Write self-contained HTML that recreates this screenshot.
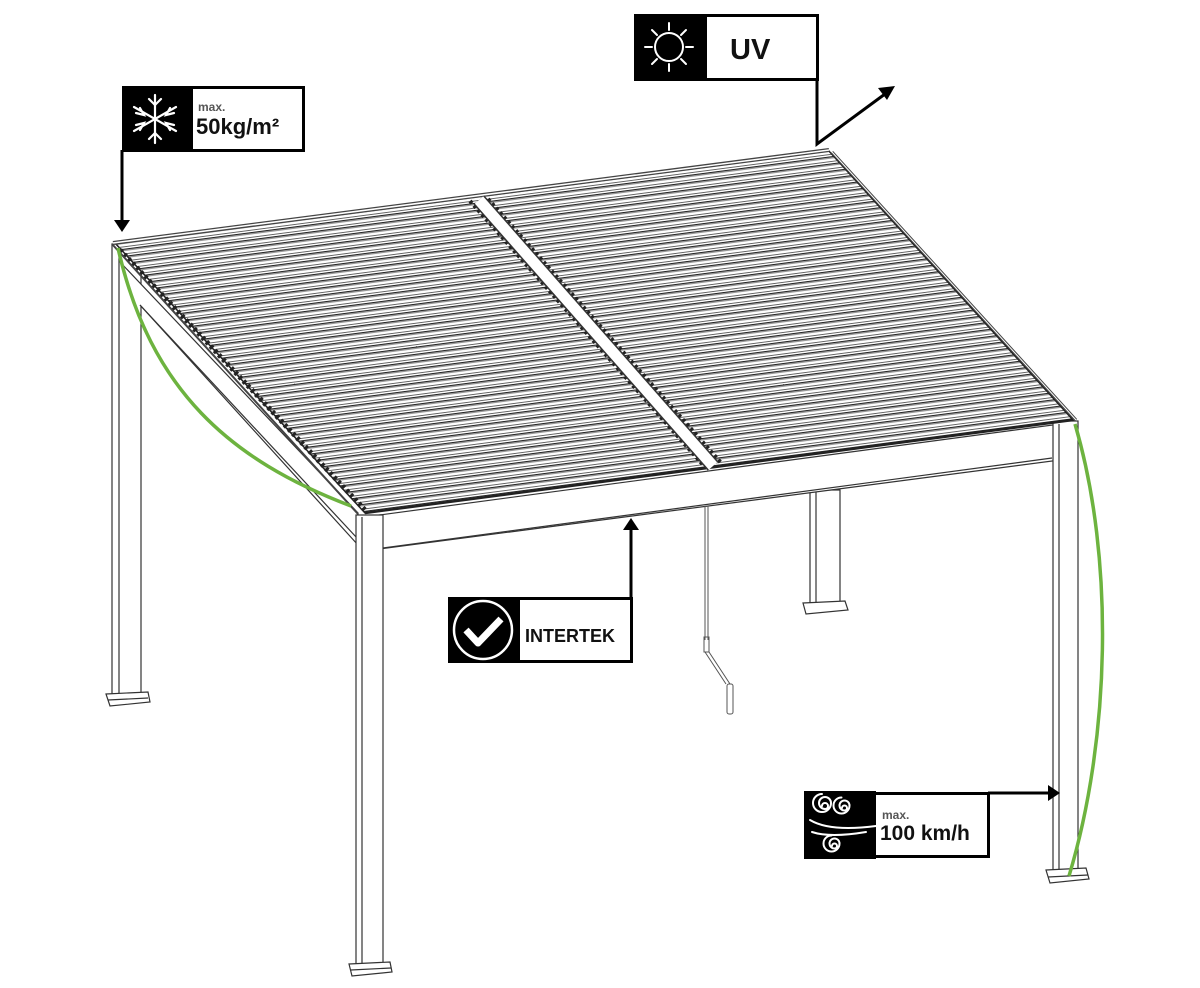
<!DOCTYPE html>
<html><head><meta charset="utf-8"><style>
html,body{margin:0;padding:0;background:#fff;width:1200px;height:988px;overflow:hidden}
svg{display:block}
text{font-family:"Liberation Sans",sans-serif;font-weight:bold;fill:#111}
</style></head><body>
<svg width="1200" height="988" viewBox="0 0 1200 988" xmlns="http://www.w3.org/2000/svg">
<defs>
<pattern id="slats" patternUnits="userSpaceOnUse" width="200" height="7.1" patternTransform="rotate(-7.45)">
<rect width="200" height="7.1" fill="#fff"/>
<rect y="0" width="200" height="1.2" fill="#222"/>
<rect y="1.2" width="200" height="1.2" fill="#999"/>
<rect y="4.8" width="200" height="0.8" fill="#444"/>
</pattern>
</defs>

<g fill="none" stroke="#333" stroke-width="1.2">
<rect x="810" y="490" width="30" height="114" fill="#fff"/>
<line x1="816" y1="492" x2="816" y2="604"/>
<path d="M803 603 L845 601 L848 610 L806 614 Z" fill="#fff"/>
<rect x="112" y="244" width="29" height="450" fill="#fff"/>
<line x1="119" y1="246" x2="119" y2="694"/>
<path d="M106 694 L148 692 L150 702 L110 706 Z" fill="#fff"/>
<line x1="108" y1="700" x2="148" y2="698"/>
<path d="M120 262 L358 513 L358 545 L140 305" fill="#fff"/>
<line x1="140" y1="305" x2="357" y2="538"/>
<path d="M372 516 L1060 424 L1060 460 L372 550 Z" fill="#fff"/>
<line x1="383" y1="548" x2="1052" y2="458"/>
<rect x="1053" y="421" width="25" height="450" fill="#fff"/>
<line x1="1059" y1="424" x2="1059" y2="870"/>
<path d="M1046 870 L1086 868 L1089 879 L1050 883 Z" fill="#fff"/>
<line x1="1048" y1="877" x2="1088" y2="875"/>
<rect x="356" y="515" width="27" height="450" fill="#fff"/>
<line x1="362" y1="517" x2="362" y2="964"/>
<path d="M349 964 L390 962 L392 972 L352 976 Z" fill="#fff"/>
<line x1="351" y1="970" x2="391" y2="968"/>
</g>

<polygon points="115,243 828,150 1073,420 365,513" fill="url(#slats)" stroke="#222" stroke-width="1.5"/>
<line x1="113" y1="243" x2="829" y2="150" stroke="#444" stroke-width="4"/>
<line x1="113" y1="243" x2="829" y2="150" stroke="#fff" stroke-width="1.5"/>
<line x1="120" y1="250" x2="365" y2="510" stroke="#222" stroke-width="5" stroke-dasharray="3 3"/>
<line x1="112" y1="244" x2="358" y2="514" stroke="#444" stroke-width="2"/>
<line x1="832" y1="152" x2="1076" y2="420" stroke="#444" stroke-width="3"/>
<line x1="832" y1="152" x2="1076" y2="420" stroke="#fff" stroke-width="1"/>
<line x1="365" y1="513" x2="1073" y2="420" stroke="#222" stroke-width="2.5"/>
<line x1="478" y1="201" x2="712" y2="466" stroke="#222" stroke-width="4" stroke-dasharray="3 3" transform="translate(-8,0)"/>
<line x1="478" y1="201" x2="712" y2="466" stroke="#222" stroke-width="4" stroke-dasharray="3 3" transform="translate(10,-2)"/>
<line x1="479" y1="200" x2="713" y2="466" stroke="#333" stroke-width="14"/>
<line x1="479" y1="200" x2="713" y2="466" stroke="#fff" stroke-width="11"/>

<g fill="none" stroke="#555" stroke-width="1">
<line x1="705" y1="506" x2="705" y2="640"/><line x1="708" y1="506" x2="708" y2="640"/>
<rect x="704" y="637" width="5" height="15"/>
<path d="M705 652 L726 684 M709 652 L730 684"/>
<rect x="727" y="684" width="6" height="30" rx="2"/>
</g>

<path d="M118 248 C150 390 230 460 351 506" fill="none" stroke="#6db33f" stroke-width="3.5"/>
<path d="M1075 424 C1115 560 1110 740 1069 876" fill="none" stroke="#6db33f" stroke-width="3.5"/>

<!-- snow label -->
<rect x="122" y="86" width="70" height="66" fill="#000"/>
<rect x="191.5" y="87.5" width="112" height="63" fill="#fff" stroke="#000" stroke-width="3"/>
<g stroke="#fff" stroke-width="2.2" stroke-linecap="round" fill="none">
<line x1="155" y1="95" x2="155" y2="143"/><line x1="134" y1="107" x2="176" y2="131"/><line x1="134" y1="131" x2="176" y2="107"/>
<path d="M149 99 L155 105 L161 99 M149 139 L155 133 L161 139 M136 113 L144 115 L140 108 M174 125 L166 123 L170 130 M136 125 L144 123 L140 130 M174 113 L166 115 L170 108"/>
</g>
<text x="198" y="111" font-size="12" style="fill:#555">max.</text>
<text x="196" y="134" font-size="22">50kg/m²</text>
<line x1="122" y1="150" x2="122" y2="222" stroke="#000" stroke-width="3"/>
<polygon points="114,220 130,220 122,232" fill="#000"/>

<!-- UV label -->
<rect x="634" y="14" width="72" height="67" fill="#000"/>
<rect x="705.5" y="15.5" width="112" height="64" fill="#fff" stroke="#000" stroke-width="3"/>
<g stroke="#fff" stroke-width="2" fill="none" stroke-linecap="round">
<circle cx="669" cy="47" r="14"/>
<path d="M669 23v7M669 64v7M645 47h7M686 47h7M652 30l5 5M681 59l5 5M652 64l5-5M681 35l5-5"/>
</g>
<text x="730" y="59" font-size="29">UV</text>
<polyline points="817,80 817,144 885,94" fill="none" stroke="#000" stroke-width="3"/>
<polygon points="895,86 878,88 887,100" fill="#000"/>

<!-- Intertek label -->
<rect x="448" y="597" width="72" height="66" fill="#000"/>
<rect x="518.5" y="598.5" width="113" height="63" fill="#fff" stroke="#000" stroke-width="3"/>
<circle cx="483" cy="630" r="29" fill="none" stroke="#fff" stroke-width="2.5"/>
<path d="M466 630 L478 643 L501 619" fill="none" stroke="#fff" stroke-width="7" stroke-linejoin="round"/>
<text x="525" y="642" font-size="18">INTERTEK</text>
<line x1="631" y1="598" x2="631" y2="528" stroke="#000" stroke-width="3"/>
<polygon points="623,530 639,530 631,518" fill="#000"/>

<!-- wind label -->
<rect x="804" y="791" width="72" height="68" fill="#000"/>
<rect x="874.5" y="793.5" width="114" height="63" fill="#fff" stroke="#000" stroke-width="3"/>
<g stroke="#fff" stroke-width="2" fill="none" stroke-linecap="round">
<path d="M822 806 a3 3 0 1 1 3 3 a6 6 0 1 1 6 -6 a9 9 0 1 1 -9 -9"/>
<path d="M842 808 a2.5 2.5 0 1 1 2.5 2.5 a5 5 0 1 1 5 -5 a8 8 0 1 1 -8 -8"/>
<path d="M810 820 Q830 832 876 826 M812 832 Q830 838 866 832"/>
<path d="M832 846 a2.5 2.5 0 1 1 2.5 2.5 a5 5 0 1 1 5 -5 a8 8 0 1 1 -8 -8"/>
</g>
<text x="882" y="819" font-size="12" style="fill:#555">max.</text>
<text x="880" y="840" font-size="21">100 km/h</text>
<line x1="988" y1="793" x2="1050" y2="793" stroke="#000" stroke-width="3"/>
<polygon points="1048,785 1048,801 1060,793" fill="#000"/>
</svg>
</body></html>
